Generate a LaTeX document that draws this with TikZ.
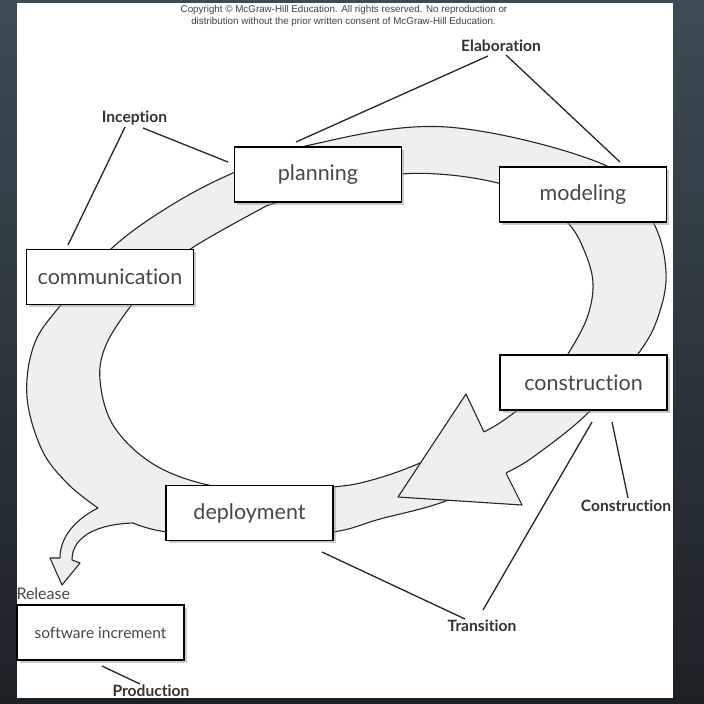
\documentclass[tikz,border=0pt]{standalone}
\usepackage{fontspec}
\usepackage{xcolor}
\usepackage{tikz}
\usetikzlibrary{positioning, calc, shadows}
\setmainfont{Lato}[Ligatures=NoCommon]
\newfontfamily\notefont{Liberation Sans}
\definecolor{bgtop}{HTML}{3E4B54}
\definecolor{bgbottom}{HTML}{1C2126}
\definecolor{bandgray}{HTML}{EFEFEF}
\definecolor{inkgray}{HTML}{474747}

\begin{document}
\begin{tikzpicture}[
    x=1pt, y=-1pt,
    phase/.style={rectangle, draw=black, line width=1.4pt, fill=white,
                  minimum width=167pt, minimum height=55pt, inner sep=0pt,
                  font=\fontsize{21.5}{25}\selectfont, text=inkgray,
                  drop shadow={shadow xshift=2.5pt, shadow yshift=-2.5pt, fill=black!40}},
    milestone/.style={font=\bfseries\fontsize{15.6}{18}\selectfont, text=black!80, inner sep=0pt},
    tie/.style={line width=1.3pt, black!85},
    band/.style={fill=bandgray, draw=black!85, line width=1.1pt, line join=round},
]
    \useasboundingbox (0,0) rectangle (704,704);
    \shade[top color=bgtop, bottom color=bgbottom] (0,0) rectangle (704,704);
    \fill[white] (16.5,3) rectangle (672.5,697.5);

    % copyright note
    \node[font=\notefont\fontsize{9.8}{12}\selectfont, text=black!75, inner sep=0pt] (note1) at (344,9.5)
        {Copyright \textcopyright{} McGraw-Hill Education. All rights reserved. No reproduction or};
    \node[font=\notefont\fontsize{9.8}{12}\selectfont, text=black!75, inner sep=0pt] (note2) at (343.5,21.5)
        {distribution without the prior written consent of McGraw-Hill Education.};

    % the cycle band, with the release branch
    \filldraw[band, even odd rule]
        plot[smooth, tension=0.6] coordinates {(98,508) (68,484) (42,450) (27,397) (34,345) (60,306)
            (112,248) (170,206) (233,173) (310,145) (447,127) (607,166) (652,220) (666,272)
            (658,317) (638,354) (590,411) (540,452) (506,473) (443,502) (380,519) (333,532)
            (250,538) (167,532) (133,523)}
        .. controls (100,524) and (72,535) .. (72,560) -- (80,563) -- (62,585) -- (50,558) -- (60,558)
        .. controls (60,535) and (78,518) .. (98,508) -- cycle
        plot[smooth cycle, tension=0.6] coordinates {(130,307) (106,345) (100,380) (113,425)
            (150,462) (200,483) (260,491) (333,487) (372,480) (420,463) (484,432) (515,412)
            (548,384) (568,354) (587,318) (593,283) (584,250) (568,223) (535,196) (498,183)
            (450,175) (401,174) (335,183) (275,203) (257,211) (192,248) (155,278)};
    % arrow head
    \filldraw[band] (484,432) -- (466,394) -- (398,497) -- (522,505) -- (506,473);

    % activities
    \node[phase] (comm) at (110,277) {communication};
    \node[phase] (plan) at (318,174.5) {planning};
    \node[phase] (model) at (583,194.5) {modeling};
    \node[phase] (constr) at (583.5,382.5) {construction};
    \node[phase] (deploy) at (249.5,513) {deployment};
    \node[phase, font=\fontsize{15.5}{18}\selectfont] (incr) at (100.5,632.5) {software increment};

    % phases
    \node[milestone] (elab) at (501,46) {Elaboration};
    \node[milestone] (incep) at (134.5,118.5) {Inception};
    \node[milestone] (build) at (626,506) {Construction};
    \node[milestone] (trans) at (482,626) {Transition};
    \node[milestone] (prod) at (151,691) {Production};
    \node[font=\fontsize{16}{18}\selectfont, text=inkgray, inner sep=0pt, above right=4pt and 0pt of incr.north west] (rel) {Release};

    % ties
    \draw[tie] ($(elab)+(-13,10)$) -- ($(plan)+(-22,-32.5)$);
    \draw[tie] ($(elab)+(5,9)$) -- ($(model)+(37,-32.5)$);
    \draw[tie] ($(incep)+(-9.5,8.5)$) -- ($(comm)+(-42,-32)$);
    \draw[tie] ($(incep)+(8.5,9.5)$) -- ($(plan)+(-90,-12.5)$);
    \draw[tie] ($(build)+(2,-8)$) -- ($(constr)+(28.5,39.5)$);
    \draw[tie] ($(trans)+(1,-16)$) -- ($(constr)+(8.5,39.5)$);
    \draw[tie] ($(trans)+(-17,-7)$) -- ($(deploy)+(72.5,39)$);
    \draw[tie] ($(prod)+(-11,-7)$) -- ($(incr)+(1.5,33.5)$);
\end{tikzpicture}
\end{document}
